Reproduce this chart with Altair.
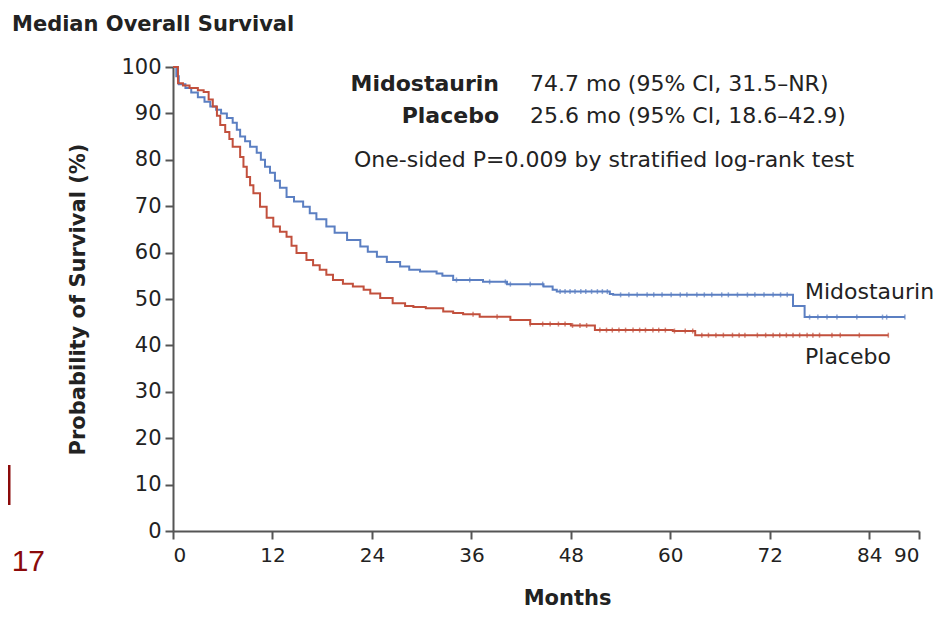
import altair as alt
import pandas as pd
import numpy as np

# ---- data ----
mido_months = [0, 0.4, 0.7, 1.5, 2.2, 3.0, 3.8, 4.5, 5.2, 5.8, 6.5, 7.2, 7.7, 8.1, 8.7, 9.3,
               10.1, 10.6, 11.1, 11.7, 12.3, 12.9, 13.7, 14.6, 15.7, 16.5, 17.3, 18.5, 19.5,
               21.0, 22.6, 23.5, 24.6, 25.8, 27.4, 28.5, 29.8, 31.8, 32.5, 33.8, 37.4, 40.3,
               44.7, 45.8, 46.3, 52.7, 53.1, 74.8, 76.2, 88.3]
mido_surv = [100, 98, 96.3, 95.5, 94.5, 93.5, 92.5, 91.5, 90.8, 90.0, 89.0, 88.0, 86.5, 85.0,
             84.0, 82.8, 81.5, 80.0, 78.5, 77.2, 75.5, 74.0, 72.0, 71.0, 69.9, 68.5, 67.2, 65.6,
             64.3, 62.7, 61.3, 60.2, 59.1, 58.0, 57.0, 56.3, 55.9, 55.5, 55.0, 54.1, 53.7, 53.2,
             52.7, 52.0, 51.6, 51.1, 50.9, 48.5, 46.1, 46.1]

plac_months = [0, 0.6, 1.2, 2.0, 3.0, 3.7, 4.3, 4.8, 5.3, 5.7, 6.3, 6.8, 7.2, 8.1, 8.5, 8.9,
               9.3, 9.7, 10.5, 11.3, 12.1, 12.9, 13.7, 14.3, 14.9, 16.1, 16.9, 17.7, 18.5, 19.3,
               20.5, 21.7, 23.0, 23.8, 25.0, 26.5, 28.0, 29.0, 30.5, 32.6, 33.8, 35.0, 37.0,
               40.7, 43.1, 48.0, 50.9, 60.3, 63.0, 86.3]
plac_surv = [100, 96.5, 96.0, 95.5, 95.0, 94.6, 93.0, 91.5, 89.5, 87.5, 86.0, 84.5, 82.8, 80.6,
             78.5, 76.3, 74.5, 72.8, 69.9, 67.5, 65.6, 64.5, 63.4, 61.5, 59.9, 58.4, 57.3, 56.3,
             55.2, 54.1, 53.3, 52.7, 52.0, 51.2, 50.2, 49.1, 48.5, 48.3, 48.0, 47.3, 47.0, 46.7,
             46.2, 45.5, 44.6, 44.3, 43.3, 43.1, 42.2, 42.2]

mido_censor = [34.2, 35.8, 38.2, 40.1, 40.7, 43.1, 44.6, 46.7, 47.3, 47.9, 48.5, 49.2, 49.8,
               50.5, 51.2, 51.8, 52.4, 54.0, 55.0, 56.0, 57.2, 58.0, 59.0, 60.1, 61.2, 62.0,
               63.2, 64.1, 65.0, 66.2, 67.0, 68.1, 69.3, 70.2, 71.3, 72.4, 73.3, 74.1, 76.8,
               77.8, 78.9, 80.1, 82.5, 85.6, 86.1, 88.3]
plac_censor = [36.2, 39.1, 43.1, 44.6, 45.5, 46.5, 47.3, 48.2, 49.1, 49.9, 51.5, 52.3, 53.0,
               53.8, 54.6, 55.5, 56.3, 57.0, 57.9, 58.6, 59.4, 60.5, 61.8, 62.7, 63.8, 64.6,
               65.5, 66.4, 67.5, 68.3, 69.0, 70.5, 71.5, 72.4, 73.2, 74.0, 74.8, 75.6, 76.5,
               77.2, 78.0, 79.5, 80.5, 82.8, 86.3]

groups = ["Midostaurin", "Placebo"]
colors = ["#5b7fc2", "#c2503d"]
x_ticks = [0, 12, 24, 36, 48, 60, 72, 84, 90]
y_ticks = [0, 10, 20, 30, 40, 50, 60, 70, 80, 90, 100]

title_text = "Median Overall Survival"
ann_mido_name = "Midostaurin"
ann_mido_val = "74.7 mo (95% CI, 31.5\u2013NR)"
ann_plac_name = "Placebo"
ann_plac_val = "25.6 mo (95% CI, 18.6\u201342.9)"
ann_p = "One-sided P=0.009 by stratified log-rank test"
stray_text = "17"

# ---- tables ----
curves = pd.concat([
    pd.DataFrame({"Months": mido_months, "Survival": mido_surv, "Group": groups[0]}),
    pd.DataFrame({"Months": plac_months, "Survival": plac_surv, "Group": groups[1]}),
])


def step_value(ts, ss, t):
    idx = np.searchsorted(np.array(ts), t, side="right") - 1
    return ss[max(idx, 0)]


censors = pd.concat([
    pd.DataFrame({"Months": mido_censor,
                  "Survival": [step_value(mido_months, mido_surv, t) for t in mido_censor],
                  "Group": groups[0]}),
    pd.DataFrame({"Months": plac_censor,
                  "Survival": [step_value(plac_months, plac_surv, t) for t in plac_censor],
                  "Group": groups[1]}),
])

FONT = "DejaVu Sans"
INK = "#222222"
W, H = 746, 464

xscale = alt.Scale(domain=[0, 90], nice=False, zero=False)
yscale = alt.Scale(domain=[0, 100], nice=False)
cscale = alt.Scale(domain=groups, range=colors)

lines = alt.Chart(curves).mark_line(interpolate="step-after", strokeWidth=2).encode(
    x=alt.X("Months:Q", scale=xscale,
            axis=alt.Axis(values=x_ticks, title="Months", titleX=394, titleY=73,
                          titleBaseline="alphabetic", titleAlign="center", labelFontSize=20)),
    y=alt.Y("Survival:Q", scale=yscale,
            axis=alt.Axis(values=y_ticks, title="Probability of Survival (%)",
                          titleX=-95, titleY=H / 2, titleAngle=270, titleAlign="center",
                          titleBaseline="middle", labelFontSize=21)),
    color=alt.Color("Group:N", scale=cscale, legend=None),
)

ticks = alt.Chart(censors).mark_tick(orient="vertical", size=5, thickness=1.5).encode(
    x=alt.X("Months:Q", scale=xscale),
    y=alt.Y("Survival:Q", scale=yscale),
    color=alt.Color("Group:N", scale=cscale, legend=None),
)


def txt(label, x, y, align="left", bold=False, size=22, color=INK, font=FONT):
    return alt.Chart(pd.DataFrame({"t": [label]})).mark_text(
        align=align, baseline="middle", font=font, fontSize=size,
        fontWeight="bold" if bold else "normal", color=color,
    ).encode(text="t:N", x=alt.value(x), y=alt.value(y))


# stray slide fragment at the left edge (a thin dark-red bar)
stray_bar = alt.Chart(pd.DataFrame({"t": [stray_text]})).mark_rule(
    color="#8b0a0a", strokeWidth=3
).encode(x=alt.value(-164), y=alt.value(398), y2=alt.value(438))

texts = [
    txt(title_text, -161, -42, bold=True, size=21),
    txt(ann_mido_name, 326, 17, align="right", bold=True),
    txt(ann_mido_val, 357, 17),
    txt(ann_plac_name, 326, 49, align="right", bold=True),
    txt(ann_plac_val, 357, 49),
    txt(ann_p, 181, 93),
    txt(groups[0], 632, 225),
    txt(groups[1], 632, 290),
    txt(stray_text, -128, 495, align="right", size=30, color="#8b0a0a",
        font="Liberation Sans"),
]

chart = alt.layer(lines, ticks, stray_bar, *texts).properties(
    width=W, height=H,
    autosize=alt.AutoSizeParams(type="none"),
    padding={"left": 165, "top": 59, "right": 15, "bottom": 80},
).configure_view(stroke=None).configure_axis(
    grid=False, domainColor="#555555", domainWidth=2, tickColor="#555555", tickWidth=2,
    tickSize=8, labelFont=FONT, labelColor=INK, labelPadding=4,
    titleFont=FONT, titleFontSize=21, titleFontWeight="bold", titleColor=INK,
).configure_axisX(labelPadding=6)

chart.save("out.html", embed_options={"renderer": "svg", "actions": False})
